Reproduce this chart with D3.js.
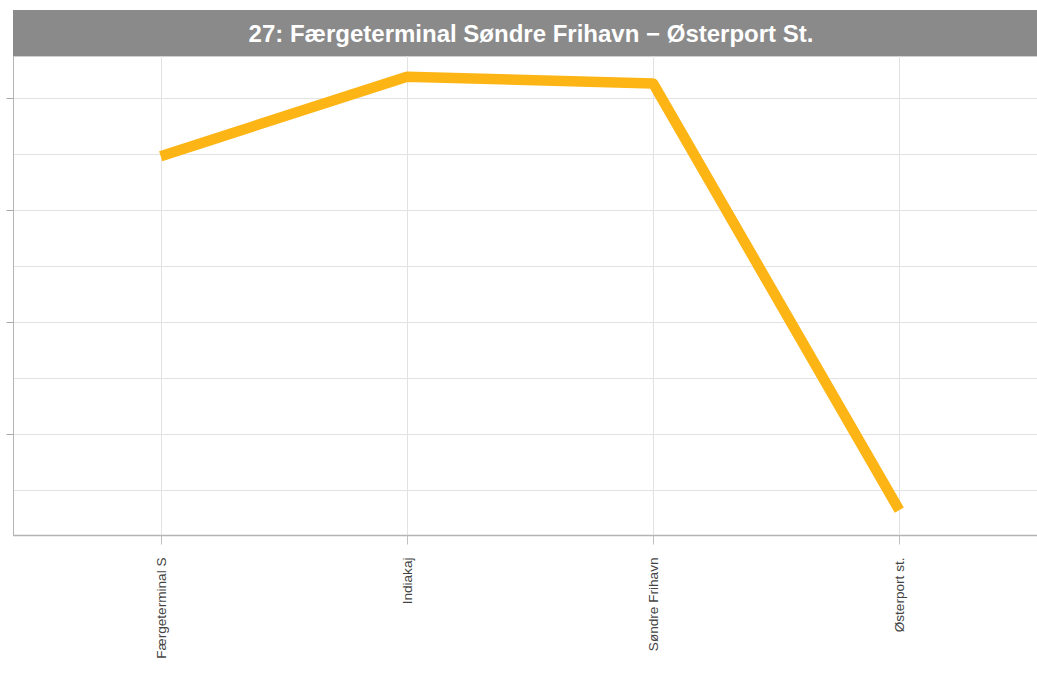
<!DOCTYPE html>
<html>
<head>
<meta charset="utf-8">
<script src="https://cdn.jsdelivr.net/npm/d3@7"></script>
<style>
  html, body { margin: 0; padding: 0; background: #fff; }
  svg { display: block; font-family: "Liberation Sans", Arial, sans-serif; }
</style>
</head>
<body>
<svg id="chart" width="1037" height="676"></svg>
<script>
// Stops along route 27 and the value plotted at each stop
const stops = ["Færgeterminal S", "Indiakaj", "Søndre Frihavn", "Østerport st."];
const values = [3.48, 4.19, 4.13, 0.32];
const yMajorTicks = [1, 2, 3, 4];
const yMinorTicks = [0.5, 1.5, 2.5, 3.5];
const title = "27: Færgeterminal Søndre Frihavn \u2212 Østerport St.";

const svg = d3.select("#chart");
const W = 1037, H = 676;
const plot = { left: 13, right: 1047, top: 56, bottom: 535 };

const x = d3.scalePoint().domain(stops).range([plot.left, plot.right]).padding(0.6);
const y = d3.scaleLinear().domain([0.098, 4.375]).range([plot.bottom, plot.top]);

// Title bar
svg.append("rect")
  .attr("x", plot.left).attr("y", 10)
  .attr("width", W - plot.left).attr("height", 46)
  .attr("fill", "#8a8a8a");
svg.append("text")
  .attr("x", 531).attr("y", 42)
  .attr("text-anchor", "middle")
  .attr("fill", "#fff")
  .attr("font-size", 24)
  .attr("font-weight", "bold")
  .text(title);

// Horizontal gridlines
const grid = svg.append("g").attr("stroke", "#e2e2e2").attr("stroke-width", 1);
grid.selectAll("line.h")
  .data(yMajorTicks.concat(yMinorTicks))
  .join("line")
  .attr("x1", plot.left).attr("x2", W)
  .attr("y1", d => Math.round(y(d)) + 0.5)
  .attr("y2", d => Math.round(y(d)) + 0.5);
grid.append("line")
  .attr("x1", plot.left).attr("x2", W)
  .attr("y1", plot.top + 0.5).attr("y2", plot.top + 0.5)
  .attr("stroke", "#d0d0d0");

// Vertical gridlines at each stop
grid.selectAll("line.v")
  .data(stops)
  .join("line")
  .attr("x1", d => Math.round(x(d)) + 0.5).attr("x2", d => Math.round(x(d)) + 0.5)
  .attr("y1", plot.top).attr("y2", plot.bottom);

// Y axis (ticks only, no labels)
const yAxis = d3.axisLeft(y).tickValues(yMajorTicks).tickSize(7).tickFormat("");
const gy = svg.append("g")
  .attr("transform", `translate(${plot.left + 0.5},0)`)
  .call(yAxis);
gy.select(".domain").remove();
gy.selectAll(".tick line").attr("stroke", "#aaa");
gy.selectAll(".tick").attr("transform", d => `translate(0,${Math.round(y(d)) + 0.5})`);
svg.append("line")
  .attr("x1", plot.left + 0.5).attr("x2", plot.left + 0.5)
  .attr("y1", plot.top).attr("y2", plot.bottom)
  .attr("stroke", "#b4b4b4");

// X axis
const xAxis = d3.axisBottom(x).tickSize(9).tickSizeOuter(0);
const gx = svg.append("g")
  .attr("transform", `translate(0,${plot.bottom + 0.5})`)
  .call(xAxis);
gx.select(".domain").attr("stroke", "#b4b4b4").attr("stroke-width", 1.5)
  .attr("d", `M${plot.left},0H${W}`);
gx.selectAll(".tick").attr("transform", d => `translate(${Math.round(x(d)) + 0.5},0)`);
gx.selectAll(".tick line").attr("stroke", "#c0c0c0");
gx.selectAll(".tick text")
  .attr("font-family", "Liberation Sans, Arial, sans-serif")
  .attr("font-size", 13.6)
  .attr("fill", "#444")
  .attr("text-anchor", "end")
  .attr("transform", "rotate(-90)")
  .attr("x", -22)
  .attr("y", 0)
  .attr("dy", "0.35em");

// Data line
const line = d3.line()
  .x((d, i) => x(stops[i]))
  .y(d => y(d));
svg.append("path")
  .datum(values)
  .attr("d", line)
  .attr("fill", "none")
  .attr("stroke", "#fdb515")
  .attr("stroke-width", 10.5)
  .attr("stroke-linejoin", "round")
  .attr("stroke-linecap", "butt");
</script>
</body>
</html>
